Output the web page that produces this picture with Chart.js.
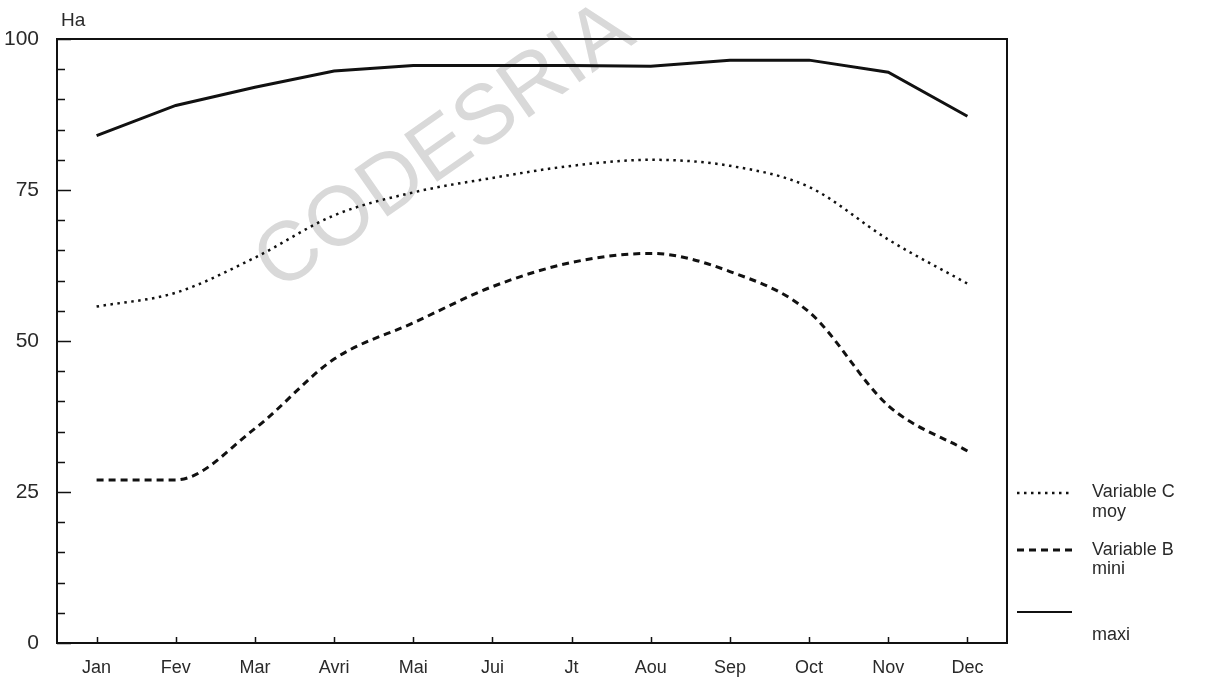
<!DOCTYPE html>
<html>
<head>
<meta charset="utf-8">
<script src="https://cdn.jsdelivr.net/npm/chart.js@4.4.0/dist/chart.umd.min.js"></script>
<style>
  html, body { margin: 0; padding: 0; background: #fff; }
  #wrap { width: 1218px; height: 681px; position: relative; }
</style>
</head>
<body>
<div id="wrap"><canvas id="chart"></canvas></div>
<script>
const months = ['Jan', 'Fev', 'Mar', 'Avri', 'Mai', 'Jui', 'Jt', 'Aou', 'Sep', 'Oct', 'Nov', 'Dec'];
const maxi = [84, 89, 92, 94.7, 95.6, 95.6, 95.6, 95.5, 96.5, 96.5, 94.5, 87.2];
const moy  = [55.7, 58, 63.8, 70.8, 74.6, 77, 79, 80, 79, 75.5, 66.8, 59.5];
const mini = [27, 27, 35.5, 47, 53, 59, 63, 64.5, 61.5, 54.8, 39.3, 31.8];
const yLabels = [0, 25, 50, 75, 100];

const ink = '#111';
const textColor = '#2a2a2a';

// box, inward ticks, watermark, legend, unit label
const framePlugin = {
    id: 'frame',
    beforeDatasetsDraw(chart) {
        const ctx = chart.ctx;
        ctx.save();
        ctx.translate(445, 148);
        ctx.rotate(-35 * Math.PI / 180);
        ctx.fillStyle = '#d9d9d9';
        ctx.font = '84px "Liberation Sans", Arial, sans-serif';
        ctx.textAlign = 'center';
        ctx.textBaseline = 'middle';
        ctx.fillText('CODESRIA', 0, 0);
        ctx.restore();
    },
    afterDraw(chart) {
        const ctx = chart.ctx;
        const a = chart.chartArea;
        const x = chart.scales.x, y = chart.scales.y;
        ctx.save();
        ctx.strokeStyle = ink;
        ctx.lineWidth = 2;
        ctx.strokeRect(a.left, a.top, a.right - a.left, a.bottom - a.top);

        ctx.lineWidth = 1.5;
        ctx.beginPath();
        for (let v = 0; v <= 100; v += 5) {
            const py = Math.round(y.getPixelForValue(v)) + 0.5;
            const len = v % 25 === 0 ? 14 : 8;
            ctx.moveTo(a.left, py);
            ctx.lineTo(a.left + len, py);
        }
        months.forEach((m, i) => {
            const px = Math.round(x.getPixelForValue(i)) + 0.5;
            ctx.moveTo(px, a.bottom);
            ctx.lineTo(px, a.bottom - 6);
        });
        ctx.stroke();

        // unit label
        ctx.fillStyle = textColor;
        ctx.font = '19px "Liberation Sans", Arial, sans-serif';
        ctx.textBaseline = 'middle';
        ctx.fillText('Ha', 61, 21);

        // legend
        const sx0 = 1017, sx1 = 1072, tx = 1092;
        const items = [
            { ds: 0, sy: 493, lines: [['Variable C', 492], ['moy', 512]] },
            { ds: 1, sy: 550, lines: [['Variable B', 550], ['mini', 569]] },
            { ds: 2, sy: 612, lines: [['maxi', 635]] }
        ];
        ctx.font = '18px "Liberation Sans", Arial, sans-serif';
        items.forEach(it => {
            const ds = chart.data.datasets[it.ds];
            ctx.strokeStyle = ink;
            ctx.lineWidth = it.ds === 2 ? 2 : ds.borderWidth;
            ctx.setLineDash(ds.borderDash || []);
            ctx.beginPath();
            ctx.moveTo(sx0, it.sy);
            ctx.lineTo(sx1, it.sy);
            ctx.stroke();
            ctx.setLineDash([]);
            it.lines.forEach(([t, ty]) => ctx.fillText(t, tx, ty));
        });
        ctx.restore();
    }
};

new Chart(document.getElementById('chart'), {
    type: 'line',
    data: {
        labels: months,
        datasets: [
            {
                label: 'Variable C moy',
                data: moy,
                borderColor: ink,
                borderWidth: 2.5,
                borderDash: [2.5, 4.5],
                cubicInterpolationMode: 'monotone',
                pointRadius: 0
            },
            {
                label: 'Variable B mini',
                data: mini,
                borderColor: ink,
                borderWidth: 3,
                borderDash: [7, 5],
                cubicInterpolationMode: 'monotone',
                pointRadius: 0
            },
            {
                label: 'maxi',
                data: maxi,
                borderColor: ink,
                borderWidth: 3,
                tension: 0,
                pointRadius: 0
            }
        ]
    },
    options: {
        responsive: true,
        maintainAspectRatio: false,
        animation: false,
        layout: { padding: { top: 39, right: 211, left: 0, bottom: 0 } },
        plugins: {
            legend: { display: false },
            tooltip: { enabled: false }
        },
        scales: {
            x: {
                offset: true,
                grid: { display: false },
                border: { display: false },
                ticks: {
                    color: textColor,
                    padding: 6,
                    maxRotation: 0,
                    autoSkip: false,
                    font: { family: '"Liberation Sans", Arial, sans-serif', size: 18 }
                },
                afterFit(scale) { scale.height = 38; }
            },
            y: {
                min: 0,
                max: 100,
                grid: { display: false },
                border: { display: false },
                ticks: {
                    stepSize: 5,
                    autoSkip: false,
                    color: textColor,
                    padding: 10,
                    font: { family: '"Liberation Sans", Arial, sans-serif', size: 21 },
                    callback: v => yLabels.includes(v) ? String(v) : ''
                },
                afterFit(scale) { scale.width = 57; }
            }
        }
    },
    plugins: [framePlugin]
});
</script>
</body>
</html>
